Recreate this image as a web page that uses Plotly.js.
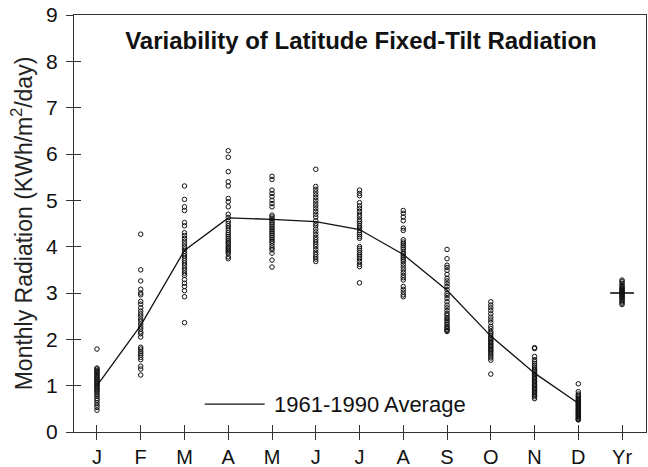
<!DOCTYPE html>
<html>
<head>
<meta charset="utf-8">
<script src="https://cdn.plot.ly/plotly-3.0.1.min.js"></script>
<style>html,body{margin:0;padding:0;background:#fff;}#chart{width:648px;height:467px;}</style>
</head>
<body>
<div id="chart"></div>
<script>
var monthLabels = ['J','F','M','A','M','J','J','A','S','O','N','D'];
var tickLabels = ['J','F','M','A','M','J','J','A','S','O','N','D','Yr'];
var average = [1.0, 2.3, 3.92, 4.62, 4.59, 4.54, 4.37, 3.83, 3.06, 2.07, 1.27, 0.62];

var janVals = [1.79,1.38,1.36,1.33,1.30,1.28,1.25,1.22,1.19,1.17,1.14,1.12,1.09,1.06,1.04,1.01,0.99,0.96,0.93,0.91,0.88,0.84,0.80,0.77,0.72,0.68,0.63,0.58,0.53,0.47];
var febVals = [4.27,3.50,3.26,3.08,3.00,2.96,2.82,2.76,2.68,2.61,2.55,2.50,2.44,2.39,2.33,2.27,2.22,2.16,2.12,2.05,1.83,1.79,1.74,1.70,1.66,1.61,1.56,1.42,1.36,1.23];
var marVals = [5.31,5.02,4.86,4.78,4.52,4.45,4.30,4.24,4.18,4.12,4.06,4.00,3.95,3.90,3.85,3.80,3.75,3.70,3.65,3.60,3.54,3.49,3.43,3.38,3.29,3.21,3.14,3.05,2.92,2.36];
var aprVals = [6.07,5.93,5.62,5.40,5.31,5.04,4.97,4.86,4.70,4.63,4.55,4.50,4.45,4.40,4.35,4.30,4.26,4.22,4.18,4.14,4.10,4.07,4.03,3.99,3.96,3.92,3.89,3.85,3.78,3.74];
var mayVals = [5.52,5.45,5.22,5.15,5.08,5.00,4.93,4.86,4.68,4.64,4.60,4.56,4.52,4.48,4.44,4.40,4.36,4.32,4.28,4.24,4.20,4.16,4.12,4.08,4.02,3.97,3.93,3.86,3.71,3.56];
var junVals = [5.67,5.30,5.24,5.18,5.12,5.06,5.00,4.94,4.88,4.82,4.76,4.70,4.64,4.56,4.50,4.45,4.38,4.32,4.26,4.20,4.15,4.10,4.05,4.00,3.94,3.88,3.83,3.78,3.73,3.68];
var julVals = [5.22,5.15,5.10,4.95,4.88,4.82,4.76,4.70,4.65,4.58,4.54,4.50,4.45,4.40,4.35,4.30,4.26,4.22,4.18,4.00,3.96,3.92,3.87,3.82,3.78,3.74,3.68,3.62,3.57,3.22];
var augVals = [4.78,4.72,4.64,4.56,4.40,4.35,4.15,4.10,4.06,4.02,3.98,3.94,3.88,3.84,3.80,3.76,3.72,3.68,3.62,3.56,3.50,3.44,3.38,3.33,3.28,3.14,3.08,3.02,2.96,2.92];
var sepVals = [3.94,3.74,3.60,3.55,3.49,3.40,3.32,3.26,3.20,3.14,3.07,2.99,2.94,2.88,2.81,2.74,2.68,2.62,2.56,2.52,2.47,2.44,2.40,2.36,2.32,2.28,2.25,2.22,2.19,2.17];
var octVals = [2.81,2.74,2.68,2.62,2.55,2.48,2.42,2.36,2.28,2.23,2.17,2.13,2.09,2.05,2.02,1.99,1.96,1.93,1.90,1.87,1.84,1.81,1.78,1.75,1.72,1.68,1.64,1.60,1.55,1.25];
var novVals = [1.82,1.80,1.63,1.56,1.52,1.48,1.44,1.40,1.36,1.33,1.30,1.27,1.24,1.21,1.18,1.15,1.12,1.09,1.06,1.03,1.00,0.97,0.94,0.91,0.88,0.85,0.82,0.79,0.76,0.72];
var decVals = [1.04,0.87,0.82,0.79,0.76,0.73,0.70,0.68,0.66,0.64,0.62,0.60,0.58,0.56,0.54,0.52,0.50,0.48,0.46,0.44,0.42,0.40,0.38,0.36,0.34,0.32,0.30,0.28,0.27,0.26];
var yearVals = [3.28,3.25,3.21,3.17,3.14,3.11,3.09,3.07,3.05,3.03,3.01,2.99,2.97,2.95,2.93,2.91,2.89,2.87,2.84,2.81,2.78,2.75];
var yearAverage = 3.0;
var legendLabel = '1961-1990 Average';

var monthly = [janVals,febVals,marVals,aprVals,mayVals,junVals,julVals,augVals,sepVals,octVals,novVals,decVals];

var px = [], py = [];
monthly.forEach(function(arr, i){
  arr.forEach(function(v){ px.push(i + 1); py.push(v); });
});
var yrPos = tickLabels.length;
var yx = yearVals.map(function(){ return yrPos; });

var marker = {symbol:'circle-open', size:4.5, color:'#111', line:{width:1, color:'#111'}};

var traces = [
  {x: px, y: py, type:'scatter', mode:'markers', marker: marker, showlegend:false, hoverinfo:'y'},
  {x: monthLabels.map(function(_, i){return i+1;}), y: average, type:'scatter', mode:'lines',
   line:{color:'#111', width:1.3}, name: legendLabel, showlegend:false},
  {x: yx, y: yearVals, type:'scatter', mode:'markers', marker: marker, showlegend:false,
   xaxis:'x2', yaxis:'y2'},
  {x: [yrPos], y: [yearAverage], type:'scatter', mode:'markers',
   marker:{symbol:'line-ew', size:17, line:{width:1.6, color:'#111'}}, showlegend:false,
   xaxis:'x2', yaxis:'y2'}
];

var xr = [0.475, 13.547];
var FAM = 'Liberation Sans, Arial, Helvetica, sans-serif';
var font = {family:FAM, size:21, color:'#111'};
var layout = {
  width:648, height:467,
  margin:{l:74, r:2, t:15, b:35},
  paper_bgcolor:'#fff', plot_bgcolor:'#fff',
  font: font,
  showlegend:false,
  title:{text:'<b>Variability of Latitude Fixed-Tilt Radiation</b>',
         font:{family:FAM, size:24, color:'#111'},
         x:0.557, xanchor:'center', y:0.914, yanchor:'middle'},
  xaxis:{range:xr, tickmode:'array', tickvals: tickLabels.map(function(_, i){return i+1;}),
         ticktext: tickLabels, ticks:'outside', ticklen:7, tickwidth:1, tickcolor:'#333',
         showline:true, linecolor:'#333', linewidth:1, mirror:true, showgrid:false,
         zeroline:false, tickfont:{family:FAM, size:20, color:'#111'}, automargin:false, ticklabelstandoff:0},
  yaxis:{range:[0,9], dtick:1, tick0:0, ticks:'outside', ticklen:7, tickwidth:1, tickcolor:'#333',
         showline:true, linecolor:'#333', linewidth:1, mirror:true, showgrid:false,
         zeroline:false, tickfont:{family:FAM, size:21, color:'#111'}, ticklabelstandoff:4, automargin:false,
         title:{text:'Monthly Radiation (KWh/m<sup>2</sup>/day)', font:{family:FAM, size:23, color:'#222'}, standoff:7}},
  xaxis2:{range:xr, overlaying:'x', anchor:'y2', tickmode:'array',
          tickvals: tickLabels.map(function(_, i){return i+1;}), ticks:'inside', ticklen:7,
          tickwidth:1, tickcolor:'#333', showticklabels:false, showline:false, showgrid:false, zeroline:false},
  yaxis2:{range:[0,9], overlaying:'y', anchor:'x2', dtick:1, tick0:0, ticks:'inside', ticklen:7,
          tickwidth:1, tickcolor:'#333', showticklabels:false, showline:false, showgrid:false, zeroline:false},
  shapes:[{type:'line', xref:'paper', yref:'paper', x0:0.2286, x1:0.3333, y0:0.067, y1:0.067,
           line:{color:'#111', width:1.3}}],
  annotations:[{text: legendLabel, xref:'paper', yref:'paper', x:0.3455, y:0.067, xanchor:'left', yanchor:'middle',
                showarrow:false, font:{family:FAM, size:22, color:'#111'}}]
};

Plotly.newPlot('chart', traces, layout, {displayModeBar:false, staticPlot:true});
</script>
</body>
</html>
